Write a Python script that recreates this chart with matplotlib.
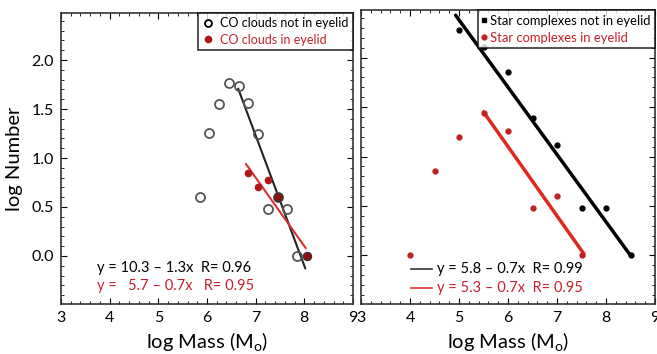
import numpy as np
import matplotlib.pyplot as plt
from matplotlib.ticker import MultipleLocator
from matplotlib.lines import Line2D

plt.rcParams['font.family'] = ['Lato', 'DejaVu Sans']
plt.rcParams['mathtext.fontset'] = 'custom'
plt.rcParams['mathtext.rm'] = 'Lato'

# left panel: CO clouds
co_out_x = [5.85, 6.05, 6.25, 6.45, 6.65, 6.85, 7.05, 7.25, 7.45, 7.65, 7.85]
co_out_y = [0.60, 1.26, 1.55, 1.77, 1.74, 1.56, 1.24, 0.48, 0.60, 0.48, 0.00]
co_in_x = [6.85, 7.05, 7.25, 7.45, 8.05]
co_in_y = [0.85, 0.70, 0.78, 0.60, 0.00]
co_out_fit = (10.54, -1.33, 6.64, 8.02)   # intercept, slope, x from, x to
co_in_fit = (5.7, -0.7, 6.8, 8.03)

# right panel: star complexes
sc_out_x = [5.0, 5.5, 6.0, 6.5, 7.0, 7.5, 8.0, 8.5]
sc_out_y = [2.28, 2.11, 1.85, 1.39, 1.12, 0.48, 0.48, 0.00]
sc_in_x = [4.0, 4.5, 5.0, 5.5, 6.0, 6.5, 7.0, 7.5]
sc_in_y = [0.00, 0.85, 1.20, 1.44, 1.26, 0.48, 0.60, 0.00]
sc_out_fit = (5.78, -0.68, 4.93, 8.5)
sc_in_fit = (5.3, -0.7, 5.5, 7.55)

RED = '#c8202a'
DARKRED = '#8e0f12'


def fit_line(ax, fit, color, lw):
    b, m, x0, x1 = fit
    xs = np.array([x0, x1])
    ax.plot(xs, b + m * xs, color=color, lw=lw, solid_capstyle='round', zorder=2)


def style_axes(ax, labels_left=True):
    ax.set_xlim(3, 9)
    ax.set_ylim(-0.49, 2.48)
    ax.xaxis.set_major_locator(MultipleLocator(1))
    ax.xaxis.set_minor_locator(MultipleLocator(0.2))
    ax.yaxis.set_major_locator(MultipleLocator(0.5))
    ax.yaxis.set_minor_locator(MultipleLocator(0.1))
    ax.tick_params(which='both', direction='in', top=True, right=True, labelsize=11.5)
    ax.tick_params(which='major', length=4, pad=5)
    ax.tick_params(which='minor', length=2)
    ax.set_yticks([0, 0.5, 1.0, 1.5, 2.0])
    ax.set_yticklabels(['0.0', '0.5', '1.0', '1.5', '2.0'] if labels_left else [])
    ax.set_xticks([3, 4, 5, 6, 7, 8, 9])
    ax.set_xlabel(r'log Mass (M$_{\rm o}$)', fontsize=14.5, labelpad=4)
    for s in ax.spines.values():
        s.set_linewidth(1.2)
        s.set_color('#333333')


fig = plt.figure(figsize=(6.57, 3.54), dpi=100)
ax1 = fig.add_axes([61 / 657, 50 / 354, 292 / 657, 291 / 354])
ax2 = fig.add_axes([361 / 657, 50 / 354, 294 / 657, 294 / 354])

# left panel
ax1.plot(co_out_x, co_out_y, 'o', ms=6.5, mfc='none', mec='#555555', mew=1.3, zorder=3)
ax1.plot(co_in_x[:3], co_in_y[:3], 'o', ms=4.5, color='#b01818', zorder=4)
ax1.plot(co_in_x[3:], co_in_y[3:], 'o', ms=6, mfc=DARKRED, mec='#333333', mew=0.8, zorder=4)
fit_line(ax1, co_out_fit, '#222222', 1.5)
fit_line(ax1, co_in_fit, '#d83030', 1.5)
style_axes(ax1)
ax1.set_ylabel('log Number', fontsize=14.5, labelpad=6)
ax1.text(3.74, -0.12, 'y = 10.3 \u2013 1.3x  R= 0.96', fontsize=10.5, va='center', color='black')
ax1.text(3.74, -0.31, 'y =   5.7 \u2013 0.7x   R= 0.95', fontsize=10.5, va='center', color=RED)
h1 = [Line2D([], [], ls='none', marker='o', ms=5, mfc='none', mec='black', mew=1.3),
      Line2D([], [], ls='none', marker='o', ms=4.5, color='#b01818')]
leg1 = ax1.legend(h1, ['CO clouds not in eyelid', 'CO clouds in eyelid'], loc='upper right',
                  fontsize=9, frameon=True, fancybox=False, edgecolor='black',
                  borderaxespad=0, handlelength=0.8, handletextpad=0.6, borderpad=0.35,
                  labelspacing=0.35)
leg1.get_frame().set_linewidth(1.2)
leg1.get_texts()[1].set_color(RED)

# right panel
ax2.plot(sc_out_x, sc_out_y, 'o', ms=3.5, color='black', zorder=3)
ax2.plot(sc_in_x, sc_in_y, 'o', ms=3.5, color='#c02020', zorder=3)
fit_line(ax2, sc_out_fit, 'black', 2.5)
fit_line(ax2, sc_in_fit, '#e0281e', 2.5)
style_axes(ax2, labels_left=False)
ax2.plot([4.02, 4.45], [-0.14, -0.14], color='#333333', lw=1.2)
ax2.plot([4.02, 4.45], [-0.33, -0.33], color='#d83030', lw=1.2)
ax2.text(4.55, -0.14, 'y = 5.8 \u2013 0.7x  R= 0.99', fontsize=10.5, va='center', color='black')
ax2.text(4.55, -0.33, 'y = 5.3 \u2013 0.7x  R= 0.95', fontsize=10.5, va='center', color=RED)
h2 = [Line2D([], [], ls='none', marker='s', ms=3, color='black'),
      Line2D([], [], ls='none', marker='o', ms=3.5, color='#c02020')]
leg2 = ax2.legend(h2, ['Star complexes not in eyelid', 'Star complexes in eyelid'],
                  loc='upper right', fontsize=9.4, frameon=True, fancybox=False,
                  edgecolor='black', borderaxespad=0, handlelength=0.3,
                  handletextpad=0.3, borderpad=0.35, labelspacing=0.4)
leg2.get_frame().set_linewidth(1.2)
leg2.get_texts()[1].set_color(RED)

fig.savefig('out.png', dpi=100)
